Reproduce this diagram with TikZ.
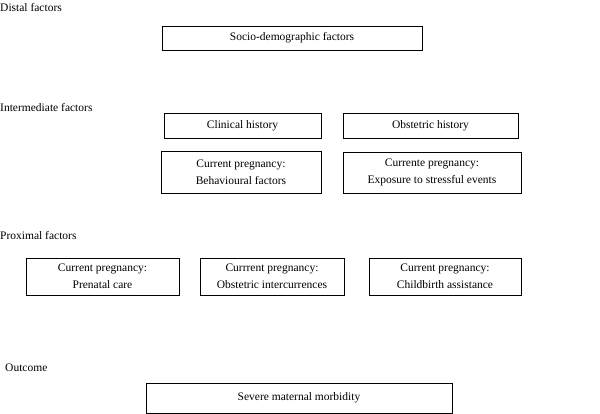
\documentclass[tikz,border=0pt]{standalone}
\usepackage{fontspec}
\setmainfont{Liberation Serif}
\usepackage{tikz}
\usetikzlibrary{shapes}
\tikzstyle{block} = [rectangle, draw, line width=0.8pt, align=center, inner sep=0pt, font=\fontsize{11.5}{17}\selectfont]
\tikzstyle{level} = [anchor=west, inner sep=0pt, font=\fontsize{11.5}{14}\selectfont]

\begin{document}
\begin{tikzpicture}[x=1pt, y=-1pt]
    \useasboundingbox (0,0) rectangle (600,414);
    % Level labels
    \node [level] (distal) at (0,8) {Distal factors};
    \node [level] (inter) at (0,108) {Intermediate factors};
    \node [level] (proximal) at (0,236) {Proximal factors};
    \node [level] (outcome) at (5,368) {Outcome};
    % Place nodes
    \node [block, minimum width=260pt, minimum height=24pt] (socio) at (292,38) {Socio-demographic factors};
    \node [block, minimum width=157pt, minimum height=25pt] (clinical) at (242.5,125.5) {Clinical history};
    \node [block, minimum width=175pt, minimum height=25pt] (obsthist) at (430.5,125.5) {Obstetric history};
    \node [block, minimum width=160pt, minimum height=42pt] (behaviour) at (241,172) {Current pregnancy:\\Behavioural factors};
    \node [block, minimum width=178pt, minimum height=41pt] (stress) at (432,172.5) {Currente pregnancy:\\Exposure to stressful events};
    \node [block, minimum width=153pt, minimum height=37pt] (prenatal) at (102.5,276.5) {Current pregnancy:\\Prenatal care};
    \node [block, minimum width=144pt, minimum height=37pt] (intercur) at (272,276.5) {Currrent pregnancy:\\Obstetric intercurrences};
    \node [block, minimum width=152pt, minimum height=37pt] (childbirth) at (445,276.5) {Current pregnancy:\\Childbirth assistance};
    \node [block, minimum width=306pt, minimum height=30pt] (severe) at (299,398) {Severe maternal morbidity};
\end{tikzpicture}
\end{document}
